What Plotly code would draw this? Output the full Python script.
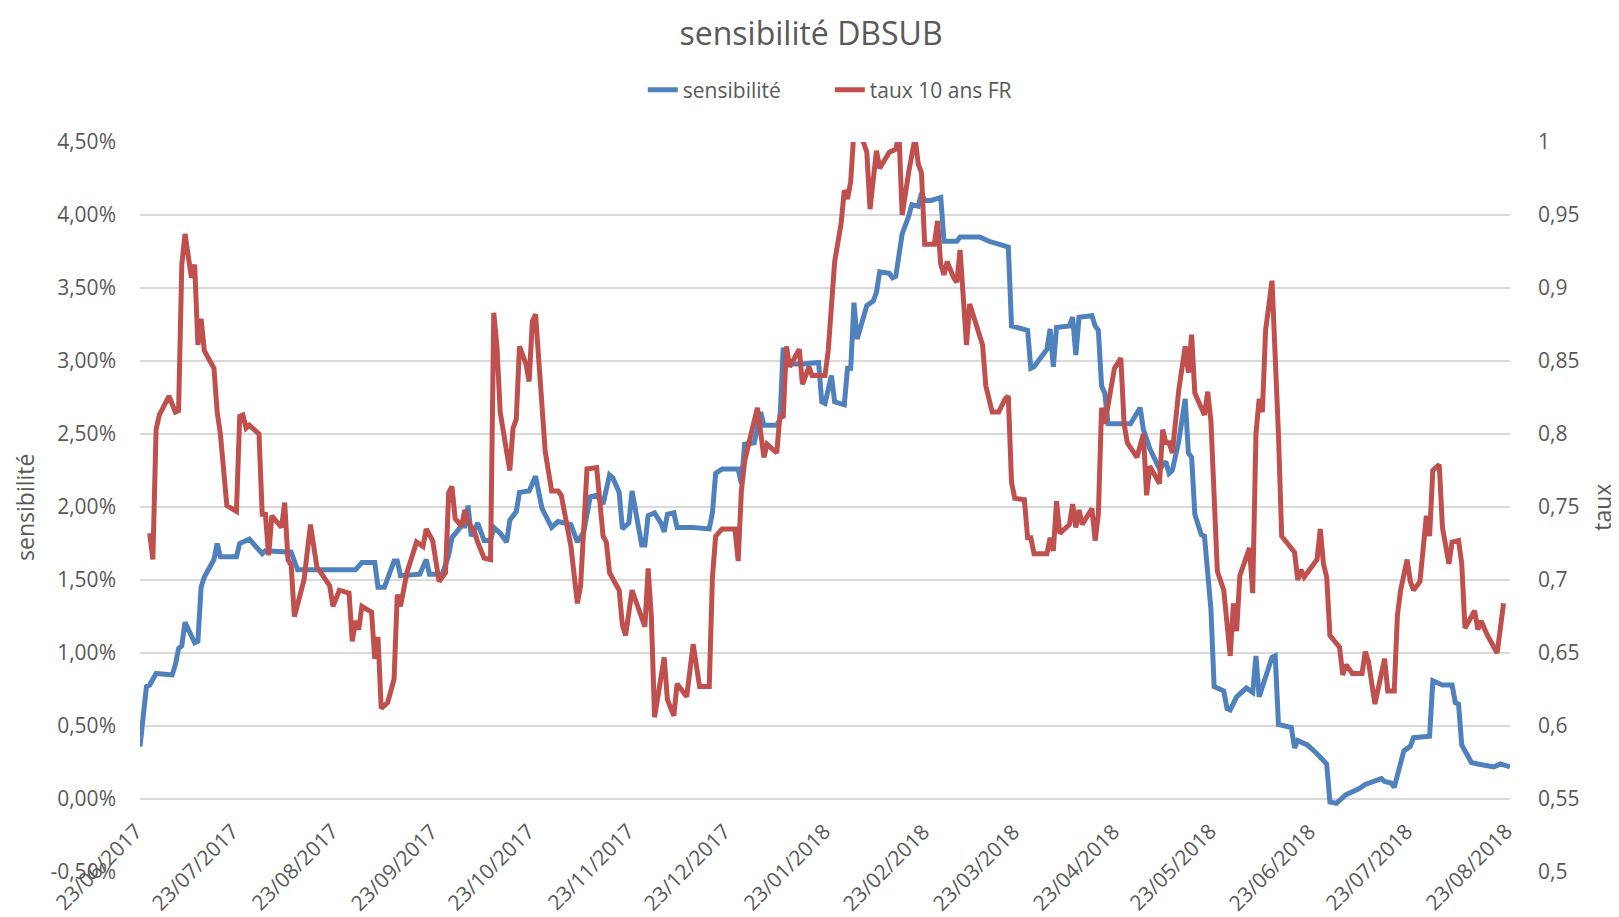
import pandas as pd
import plotly.graph_objects as go

# jours écoulés depuis le 23/06/2017
sens_jours = [0, 2, 3, 5, 10, 11, 12, 13, 14, 17, 18, 19, 20, 23, 24, 25, 30, 31, 34, 38, 39, 47, 49,
              67, 69, 73, 74, 76, 79, 80, 81, 87, 89, 90, 94, 96, 97, 100, 101, 102, 103, 105, 107,
              109, 110, 112, 114, 115, 117, 118, 121, 123, 125, 128, 130, 134, 136, 138, 140, 142,
              144, 146, 147, 149, 150, 152, 153, 155, 156, 157, 158, 160, 162, 163, 164, 166, 167,
              172, 177, 178, 179, 181, 186, 187, 188, 191, 193, 194, 198, 199, 200, 202, 206, 211,
              212, 213, 215, 216, 219, 220, 221, 222, 223, 226, 228, 229, 230, 233, 234, 235, 237,
              239, 240, 242, 243, 244, 246, 249, 250, 254, 255, 261, 264, 267, 270, 271, 276, 277,
              278, 282, 283, 284, 285, 289, 290, 291, 292, 296, 297, 298, 299, 300, 301, 308, 311,
              312, 314, 317, 319, 320, 321, 323, 325, 326, 327, 328, 330, 331, 332, 333, 334, 337,
              338, 339, 341, 344, 346, 347, 348, 350, 352, 353, 354, 358, 359, 360, 363, 366, 369,
              370, 372, 375, 379, 381, 384, 386, 387, 389, 390, 393, 395, 396, 401, 402, 405, 408,
              409, 410, 411, 414, 416, 421, 423, 426]
sens_valeurs = [0.36, 0.77, 0.78, 0.86, 0.85, 0.92, 1.03, 1.05, 1.21, 1.07, 1.08, 1.45, 1.52, 1.64,
                1.75, 1.66, 1.66, 1.75, 1.78, 1.68, 1.70, 1.69, 1.57,
                1.57, 1.62, 1.62, 1.45, 1.45, 1.63, 1.63, 1.53, 1.54, 1.64, 1.54, 1.54, 1.67, 1.79,
                1.87, 1.87, 2.01, 1.80, 1.89, 1.77,
                1.77, 1.86, 1.82, 1.76, 1.91, 1.97, 2.10, 2.11, 2.21, 1.99, 1.86, 1.90, 1.88, 1.76,
                1.83, 2.07, 2.08,
                2.02, 2.22, 2.20, 2.10, 1.85, 1.89, 2.11, 1.89, 1.74, 1.74, 1.94, 1.96, 1.89, 1.83,
                1.95, 1.96, 1.86,
                1.86, 1.85, 1.96, 2.23, 2.26, 2.26, 2.16, 2.43, 2.44, 2.65, 2.56, 2.56, 2.60, 3.09,
                2.98, 2.98, 2.99,
                2.72, 2.71, 2.90, 2.72, 2.70, 2.95, 2.95, 3.40, 3.15, 3.38, 3.41, 3.47, 3.61, 3.60,
                3.57, 3.58, 3.87,
                3.99, 4.07, 4.06, 4.15, 4.10, 4.10, 4.12, 3.82, 3.82, 3.85, 3.85, 3.82, 3.80, 3.78,
                3.24, 3.21, 2.95,
                2.96, 3.08, 3.22, 2.96, 3.23, 3.24, 3.30, 3.04, 3.30, 3.31, 3.24, 3.21, 2.83, 2.78,
                2.57, 2.57, 2.68,
                2.53, 2.40, 2.26, 2.31, 2.23, 2.25, 2.45, 2.74, 2.37, 2.34, 1.95, 1.81, 1.80, 1.49,
                1.30, 0.77, 0.74,
                0.62, 0.61, 0.70, 0.76, 0.73, 0.98, 0.70, 0.83, 0.97, 0.98, 0.51, 0.49, 0.35, 0.40,
                0.37, 0.31, 0.24,
                -0.02, -0.03, 0.03, 0.07, 0.10, 0.12, 0.14, 0.12, 0.11, 0.08, 0.33, 0.36, 0.42, 0.43,
                0.81, 0.78, 0.78,
                0.66, 0.65, 0.37, 0.25, 0.24, 0.22, 0.24, 0.22]

taux_jours = [3, 4, 5, 6, 9, 11, 12, 13, 14, 16, 17, 18, 19, 20, 23, 24, 25, 27, 30, 31, 32, 33, 34,
              37, 38, 39, 40, 41, 44, 45, 46, 47, 48, 51, 53, 55, 59, 60, 62, 65, 66, 67, 68, 69,
              72, 73, 74, 75, 77, 79, 80, 81, 83, 86, 88, 89, 91, 93, 95, 96, 97, 98, 100, 101,
              102, 104, 105, 107, 109, 110, 111, 112, 114, 115, 116, 117, 118, 120, 121, 122, 123,
              125, 126, 128, 130, 131, 132, 134, 136, 137, 139, 142, 144, 145, 146, 149, 150, 151,
              153, 156, 157, 158, 159, 160, 163, 164, 166, 167, 170, 172, 174, 177, 178, 179, 181,
              185, 186, 187, 188, 190, 192, 194, 195, 198, 199, 200, 201, 202, 205, 206, 208, 209,
              213, 214, 215, 216, 218, 219, 220, 221, 222, 224, 226, 227, 229, 230, 233, 235, 236,
              237, 239, 241, 242, 243, 244, 247, 248, 249, 250, 251, 253, 254, 255, 257, 258, 260,
              262, 263, 265, 267, 269, 270, 271, 272, 275, 276, 277, 278, 282, 283, 284, 285, 286,
              289, 290, 291, 292, 293, 296, 297, 298, 299, 300, 303, 305, 306, 307, 310, 312, 313,
              314, 317, 318, 319, 320, 321, 323, 325, 326, 327, 328, 330, 331, 332, 333, 335, 337,
              339, 340, 341, 342, 345, 346, 347, 348, 349, 350, 352, 353, 354, 355, 358, 359, 360,
              361, 362, 364, 366, 367, 368, 369, 370, 373, 374, 375, 377, 380, 381, 382, 384, 387,
              388, 390, 391, 392, 394, 395, 396, 398, 400, 401, 402, 404, 405, 407, 408, 410, 411,
              412, 414, 415, 416, 417, 419, 422, 424]
taux_valeurs = [0.732, 0.714, 0.803, 0.813, 0.826, 0.815, 0.816, 0.916, 0.937, 0.907, 0.916, 0.861,
                0.879, 0.857, 0.845, 0.815, 0.800, 0.751, 0.747, 0.812, 0.813, 0.804, 0.806,
                0.800, 0.745, 0.745, 0.717, 0.744, 0.736, 0.753, 0.714, 0.710, 0.675, 0.700, 0.738,
                0.709, 0.696, 0.682, 0.693, 0.691, 0.658, 0.672, 0.666, 0.682,
                0.678, 0.646, 0.661, 0.612, 0.616, 0.632, 0.690, 0.682, 0.705, 0.726, 0.723, 0.735,
                0.727, 0.699, 0.705, 0.760, 0.764, 0.742, 0.737, 0.748,
                0.740, 0.733, 0.726, 0.715, 0.714, 0.883, 0.860, 0.815, 0.788, 0.775, 0.804, 0.810,
                0.860, 0.848, 0.836, 0.877, 0.882,
                0.821, 0.788, 0.761, 0.761, 0.758, 0.746, 0.723, 0.684, 0.696, 0.776, 0.777, 0.730,
                0.726, 0.705, 0.693, 0.669, 0.662,
                0.693, 0.673, 0.668, 0.708, 0.675, 0.606, 0.647, 0.618, 0.607, 0.629, 0.620, 0.656,
                0.627, 0.627, 0.702, 0.730, 0.735,
                0.735, 0.713, 0.761, 0.781, 0.800, 0.818, 0.784, 0.793, 0.787, 0.813, 0.811, 0.860,
                0.846, 0.858, 0.834, 0.846, 0.840,
                0.840, 0.857, 0.889, 0.918, 0.944, 0.967, 0.961, 0.973, 1.008, 1.006, 0.993, 0.954,
                0.994, 0.982, 0.993, 0.995, 1.006,
                0.950, 0.979, 1.003, 0.985, 0.979, 0.930, 0.930, 0.946, 0.916, 0.909, 0.918, 0.907,
                0.904, 0.926, 0.861, 0.889, 0.876,
                0.861, 0.833, 0.815, 0.815, 0.824, 0.826, 0.767, 0.756, 0.755, 0.729, 0.729, 0.718,
                0.718, 0.729, 0.720, 0.754, 0.732,
                0.738, 0.752, 0.736, 0.748, 0.738, 0.749, 0.727, 0.745, 0.818, 0.807, 0.845, 0.852,
                0.807, 0.794, 0.784, 0.800, 0.758,
                0.778, 0.766, 0.803, 0.794, 0.794, 0.787, 0.830, 0.860, 0.842, 0.868, 0.828, 0.818,
                0.813, 0.829, 0.809, 0.706, 0.693,
                0.648, 0.684, 0.665, 0.703, 0.722, 0.691, 0.800, 0.824, 0.815, 0.871, 0.905, 0.860,
                0.800, 0.730, 0.722, 0.719, 0.700,
                0.707, 0.702, 0.708, 0.714, 0.735, 0.711, 0.702, 0.662, 0.654, 0.635, 0.642, 0.636,
                0.636, 0.651, 0.644, 0.615, 0.646,
                0.624, 0.624, 0.676, 0.693, 0.714, 0.699, 0.693, 0.699, 0.744, 0.730, 0.775, 0.779,
                0.736, 0.711, 0.726, 0.727, 0.711,
                0.667, 0.676, 0.679, 0.666, 0.672, 0.662, 0.650, 0.684]

mois_dates = ["2017-06-23", "2017-07-23", "2017-08-23", "2017-09-23", "2017-10-23", "2017-11-23",
              "2017-12-23", "2018-01-23", "2018-02-23", "2018-03-23", "2018-04-23", "2018-05-23",
              "2018-06-23", "2018-07-23", "2018-08-23"]
mois_labels = ["23/06/2017", "23/07/2017", "23/08/2017", "23/09/2017", "23/10/2017", "23/11/2017",
               "23/12/2017", "23/01/2018", "23/02/2018", "23/03/2018", "23/04/2018", "23/05/2018",
               "23/06/2018", "23/07/2018", "23/08/2018"]

gauche_vals = [-0.5, 0, 0.5, 1, 1.5, 2, 2.5, 3, 3.5, 4, 4.5]
gauche_labels = ["-0,50%", "0,00%", "0,50%", "1,00%", "1,50%", "2,00%", "2,50%", "3,00%",
                 "3,50%", "4,00%", "4,50%"]
droite_vals = [0.5, 0.55, 0.6, 0.65, 0.7, 0.75, 0.8, 0.85, 0.9, 0.95, 1]
droite_labels = ["0,5", "0,55", "0,6", "0,65", "0,7", "0,75", "0,8", "0,85", "0,9", "0,95", "1"]

debut = pd.Timestamp("2017-06-23")
sens_dates = debut + pd.to_timedelta(sens_jours, unit="D")
taux_dates = debut + pd.to_timedelta(taux_jours, unit="D")

gris = "#595959"
police = "Open Sans"

fig = go.Figure()
fig.add_trace(go.Scatter(x=sens_dates, y=sens_valeurs, name="sensibilité", mode="lines",
                         line=dict(color="#4F81BD", width=5)))
fig.add_trace(go.Scatter(x=taux_dates, y=taux_valeurs, name="taux 10 ans FR", mode="lines",
                         line=dict(color="#C0504D", width=5), yaxis="y2"))

annots = []
for d, lab in zip(mois_dates, mois_labels):
    annots.append(dict(x=d, y=0.078, xref="x", yref="paper", text=lab, showarrow=False,
                       textangle=-45, xanchor="right", yanchor="top", xshift=10,
                       font=dict(family=police, size=21, color=gris)))
annots.append(dict(x=-0.084, y=0.5, xref="paper", yref="paper", text="sensibilité",
                   xanchor="center", yanchor="middle", showarrow=False, textangle=-90,
                   font=dict(family=police, size=23, color=gris)))
annots.append(dict(x=1.067, y=0.5, xref="paper", yref="paper", text="taux",
                   xanchor="center", yanchor="middle", showarrow=False, textangle=-90,
                   font=dict(family=police, size=23, color=gris)))

fig.update_layout(
    width=1619, height=917,
    margin=dict(l=132, r=117, t=134, b=53),
    paper_bgcolor="white", plot_bgcolor="white",
    font=dict(family=police, color=gris),
    title=dict(text="sensibilité DBSUB", x=0.496, xref="container", xanchor="center",
               y=0.972, yref="container", yanchor="middle",
               font=dict(family=police, size=32, color=gris)),
    legend=dict(orientation="h", x=0.367, xanchor="left", y=1.071, yanchor="middle",
                entrywidth=142, font=dict(family=police, size=21, color=gris),
                bgcolor="rgba(0,0,0,0)"),
    xaxis=dict(range=[mois_dates[0], mois_dates[-1]], showgrid=False, showline=False,
               showticklabels=False, ticks="", zeroline=False),
    yaxis=dict(range=[-0.5, 4.5], tickvals=gauche_vals, ticktext=gauche_labels,
               showgrid=True, gridcolor="#D9D9D9", gridwidth=1.5, zeroline=False,
               showline=False, ticks="", ticklabelstandoff=23,
               tickfont=dict(family=police, size=21, color=gris)),
    yaxis2=dict(range=[0.5, 1], tickvals=droite_vals, ticktext=droite_labels, overlaying="y",
                side="right", showgrid=False, zeroline=False, showline=False, ticks="",
                ticklabelstandoff=27, tickfont=dict(family=police, size=21, color=gris)),
    annotations=annots,
)

fig.write_html("out.html")
